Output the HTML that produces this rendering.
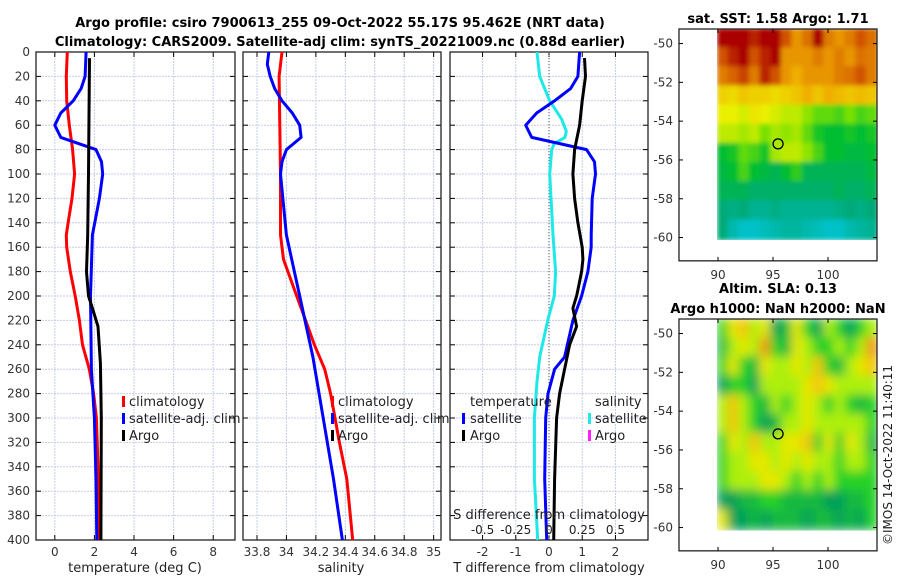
<!DOCTYPE html>
<html><head><meta charset="utf-8"><style>
html,body{margin:0;padding:0;background:#fff;}
svg{display:block;font-family:"DejaVu Sans","Liberation Sans",sans-serif;}
</style></head><body>
<svg id="c" width="900" height="580" viewBox="0 0 900 580">
<defs>
<filter id="bl1" x="0" y="0" width="1" height="1"><feGaussianBlur stdDeviation="2.5"/></filter>
<filter id="bl2" x="0" y="0" width="1" height="1"><feGaussianBlur stdDeviation="5"/></filter>
<clipPath id="cm1"><rect x="717" y="29" width="160" height="211"/></clipPath>
<clipPath id="cm2"><rect x="717" y="319" width="160" height="212"/></clipPath>
</defs>
<text x="340" y="27" text-anchor="middle" font-size="13" font-weight="bold">Argo profile: csiro 7900613_255 09-Oct-2022 55.17S 95.462E (NRT data)</text>
<text x="340" y="46" text-anchor="middle" font-size="13" font-weight="bold">Climatology: CARS2009. Satellite-adj clim: synTS_20221009.nc (0.88d earlier)</text>
<text x="778" y="23" text-anchor="middle" font-size="13" font-weight="bold">sat. SST: 1.58 Argo: 1.71</text>
<text x="778" y="293" text-anchor="middle" font-size="13" font-weight="bold">Altim. SLA: 0.13</text>
<text x="778" y="313" text-anchor="middle" font-size="13" font-weight="bold">Argo h1000: NaN h2000: NaN</text>
<text transform="translate(892,545) rotate(-90)" font-size="12" fill="#222">©IMOS 14-Oct-2022 11:40:11</text>
<g id="root"></g>
</svg>
<script>
// ---- Data ----
const depthTicks = [0,20,40,60,80,100,120,140,160,180,200,220,240,260,280,300,320,340,360,380,400];
const tempTicks = [0,2,4,6,8];
const salTicks = [33.8,34,34.2,34.4,34.6,34.8,35];
const salTickLabels = ["33.8","34","34.2","34.4","34.6","34.8","35"];
const tdiffTicks = [-2,-1,0,1,2];
const sdiffTicks = [-0.5,-0.25,0,0.25,0.5];
const sdiffTickLabels = ["-0.5","-0.25","0","0.25","0.5"];

const climTDepth = [0,20,40,60,80,100,120,140,150,160,180,200,220,240,260,280,300,350,400];
const climTVal   = [0.63,0.58,0.6,0.73,0.9,1.0,0.87,0.67,0.58,0.6,0.78,1.03,1.24,1.4,1.74,1.96,2.1,2.2,2.25];
const satTDepth  = [0,20,30,40,50,60,70,80,90,100,120,150,200,260,300,350,400];
const satTVal    = [1.58,1.53,1.33,0.93,0.3,0.0,0.3,2.08,2.36,2.42,2.25,1.9,1.8,1.85,2.0,2.08,2.12];
const argoTDepth = [5,100,150,180,200,210,225,255,300,400];
const argoTVal   = [1.75,1.7,1.66,1.6,1.7,1.9,2.18,2.3,2.35,2.33];

const climSDepth = [0,20,100,150,170,190,200,220,240,260,280,300,320,350,400];
const climSVal   = [33.97,33.95,33.96,33.96,33.98,34.04,34.07,34.13,34.19,34.26,34.3,34.33,34.36,34.41,34.45];
const satSDepth  = [0,10,20,30,40,50,60,70,80,90,100,150,200,250,300,350,400];
const satSVal    = [33.88,33.87,33.89,33.92,33.97,34.04,34.09,34.1,34.0,33.97,33.96,34.0,34.09,34.18,34.25,34.32,34.38];

const dTSatDepth = [0,20,30,40,50,60,70,80,90,100,120,150,160,180,200,220,250,260,280,300,350,400];
const dTSatVal   = [0.92,0.87,0.65,0.17,-0.37,-0.7,-0.52,1.13,1.37,1.4,1.3,1.27,1.27,1.17,0.98,0.72,0.47,0.17,-0.03,-0.1,-0.13,-0.07];
const dTArgoDepth = [5,20,40,60,80,100,120,140,160,170,180,195,200,210,225,240,260,280,300,350,400];
const dTArgoVal   = [1.07,1.1,1.0,0.92,0.77,0.72,0.77,0.87,1.0,1.02,0.98,0.87,0.83,0.72,0.83,0.62,0.47,0.32,0.23,0.17,0.14];
const dSSatDepth = [0,20,40,55,65,70,75,80,100,150,180,200,220,250,270,300,350,400];
const dSSatVal   = [-0.09,-0.07,0.005,0.095,0.13,0.12,0.04,0.02,0.005,0.03,0.05,0.04,-0.01,-0.07,-0.09,-0.11,-0.11,-0.085];

const mapLatTicks = [-50,-52,-54,-56,-58,-60];
const mapLonTicks = [90,95,100];
const argoLon = 95.462, argoLat = -55.17;
const sstGrid = [
 [4,4,4,3.8,4,4,3.5,3,3.3,4,3.2,3,3.2,3.5,3.3],
 [3.5,3.8,4,3.5,3.8,4,3,3,3,3.2,3,3.2,3,3.3,3.2],
 [3.2,3.4,3.6,3.2,3.8,3.5,3,2.8,3,3,3,3.2,3.3,3.5,3.2],
 [2.5,2.4,2.6,2.5,2.5,2.4,2.5,2.6,2.8,2.6,2.8,2.7,2.6,2.7,2.6],
 [2.2,2.2,2.1,2.3,2.2,2.1,2.0,2.0,1.8,1.6,1.6,1.5,1.7,1.5,1.6],
 [2.0,2.0,1.9,2.0,1.7,1.9,1.8,1.9,1.6,1.3,1.2,1.2,1.3,1.2,1.3],
 [1.2,1.3,1.6,1.5,1.3,1.9,2.0,2.0,1.8,1.5,1.2,1.2,1.1,1.1,1.2],
 [1.1,1.2,1.5,1.2,1.1,1.0,1.2,1.4,1.0,1.0,1.0,1.0,1.0,1.0,1.1],
 [1.0,1.0,1.0,0.9,0.9,0.9,0.9,0.9,0.9,0.9,0.9,1.0,0.9,0.9,1.0],
 [0.8,0.7,0.8,0.6,0.6,0.7,0.6,0.6,0.6,0.6,0.6,0.7,0.8,0.7,0.8],
 [0.8,0.4,0.2,0.2,0.3,0.4,0.5,0.5,0.4,0.3,0.2,0.2,0.4,0.5,0.6]
];
const slaGrid = [
 [1,2,2.5,1.5,2,0,0.5,2,1,0,1.5,1,0,1,1.5],
 [0.5,1.5,2,1.5,3,1,0.5,2,1.5,1,1,1.5,1,1.5,3],
 [1,2,1,0.5,2,1.5,1.5,2,1.5,2.5,1,0.5,1.5,2,2.5],
 [0,1,1,0,1.5,1.5,1.5,1.5,2,2.5,2,1.5,1.5,1.5,1.5],
 [1.5,2.5,1.5,1,0.5,1.5,1,1.5,2,1.5,1,1.5,1,0.5,1],
 [1.5,2.5,1.5,1,0,0.5,1.5,1.5,2,1.5,1.5,1.5,1.5,1.5,1],
 [1,2,1.5,2.5,1.5,1.5,2,2,2.5,1,2,1,2,1.5,0.5],
 [1,1.5,1.5,2,2,1.5,2,1.5,2,1.5,1.5,1,1.5,1.5,1],
 [1,1.5,1.5,1.5,2,2,1.5,1,1.5,1,1.5,1,1,1,1],
 [0,0,0.5,0.5,1,1,0.5,0.5,0.5,0.5,0,0,0.5,0.5,1],
 [2,0,0,0.5,0,0.5,0.5,0.5,0,0.5,0.5,0,0.5,0,1]
];

// ---- Drawing ----
const NS = "http://www.w3.org/2000/svg";
const root = document.getElementById('root');
function mk(tag, attrs, parent){
  const e = document.createElementNS(NS, tag);
  for (const k in attrs) e.setAttribute(k, attrs[k]);
  (parent||root).appendChild(e);
  return e;
}
const Y0 = 52, Y1 = 540;
function yD(d){ return Y0 + (d/400)*(Y1-Y0); }

function panel(name, x0, x1, vmin, vmax){
  const g = mk('g', {});
  
  
  const xs = v => x0 + (v - vmin)/(vmax - vmin)*(x1 - x0);
  return {g, xs, x0, x1};
}
function frame(p, ticks, labels, name){
  // horizontal grid
  depthTicks.forEach(d => {
    const l = mk('line', {x1:p.x0, x2:p.x1, y1:yD(d), y2:yD(d), stroke:'#c5cde6', 'stroke-width':1, 'stroke-dasharray':'2,1'}, p.g);
    
    
    mk('line', {x1:p.x0, x2:p.x0+5, y1:yD(d), y2:yD(d), stroke:'#000'}, p.g);
    mk('line', {x1:p.x1-5, x2:p.x1, y1:yD(d), y2:yD(d), stroke:'#000'}, p.g);
  });
  ticks.forEach((t,i) => {
    const x = p.xs(t);
    const l = mk('line', {x1:x, x2:x, y1:Y0, y2:Y1, stroke:'#c5cde6', 'stroke-width':1, 'stroke-dasharray':'2,1'}, p.g);
    
    
    mk('line', {x1:x, x2:x, y1:Y1-5, y2:Y1, stroke:'#000'}, p.g);
    mk('line', {x1:x, x2:x, y1:Y0, y2:Y0+5, stroke:'#000'}, p.g);
    const tx = mk('text', {x:x, y:556, 'text-anchor':'middle', 'font-size':12, fill:'#333'}, p.g);
    tx.textContent = labels ? labels[i] : String(t);
    
    
  });
  mk('rect', {x:p.x0, y:Y0, width:p.x1-p.x0, height:Y1-Y0, fill:'none', stroke:'#222', 'stroke-width':1.3}, p.g);
}
function series(p, depths, vals, color, name, w, scale){
  const pts = depths.map((d,i) => p.xs(vals[i]*(scale||1)).toFixed(1) + ',' + yD(d).toFixed(1)).join(' ');
  const pl = mk('polyline', {points:pts, fill:'none', stroke:color, 'stroke-width':w||3, 'stroke-linejoin':'round'}, p.g);
  
  
}
function label(p, x, y, txt, name, size, anchor){
  const t = mk('text', {x:x, y:y, 'font-size':size||13, fill:'#222', 'text-anchor':anchor||'start'}, p.g);
  t.textContent = txt;
  
  
  return t;
}
function legBar(p, x, y, color, name){
  const r = mk('rect', {x:x, y:y-11, width:3, height:11, fill:color}, p.g);
  
  
}

// Panel 1: temperature
const p1 = panel('temperature-panel', 36, 235, -0.95, 9.1);
frame(p1, tempTicks, null, 'temperature');
depthTicks.forEach(d => {
  const t = mk('text', {x:30, y:yD(d)+4, 'text-anchor':'end', 'font-size':12, fill:'#333'}, p1.g);
  t.textContent = String(d);
  
  
});
series(p1, climTDepth, climTVal, '#f00', 'temp-climatology-line');
series(p1, satTDepth, satTVal, '#00f', 'temp-satellite-line');
series(p1, argoTDepth, argoTVal, '#000', 'temp-argo-line');
label(p1, 135, 572, 'temperature (deg C)', 'temperature-axis-title', 13, 'middle');
legBar(p1, 122, 407, '#f00', 'legend-climatology-marker'); label(p1, 129, 406, 'climatology', 'legend-climatology');
legBar(p1, 122, 424, '#00f', 'legend-satellite-marker'); label(p1, 129, 423, 'satellite-adj. clim', 'legend-satellite');
legBar(p1, 122, 441, '#000', 'legend-argo-marker'); label(p1, 129, 440, 'Argo', 'legend-argo');

// Panel 2: salinity
const p2 = panel('salinity-panel', 243, 441, 33.705, 35.05);
frame(p2, salTicks, salTickLabels, 'salinity');
series(p2, climSDepth, climSVal, '#f00', 'sal-climatology-line');
series(p2, satSDepth, satSVal, '#00f', 'sal-satellite-line');
label(p2, 341, 572, 'salinity', 'salinity-axis-title', 13, 'middle');
legBar(p2, 331, 407, '#f00', 'legend2-climatology-marker'); label(p2, 338, 406, 'climatology', 'legend2-climatology');
legBar(p2, 331, 424, '#00f', 'legend2-satellite-marker'); label(p2, 338, 423, 'satellite-adj. clim', 'legend2-satellite');
legBar(p2, 331, 441, '#000', 'legend2-argo-marker'); label(p2, 338, 440, 'Argo', 'legend2-argo');

// Panel 3: differences
const p3 = panel('difference-panel', 450, 648, -2.98, 2.98);
frame(p3, tdiffTicks, null, 'tdiff');
const zl = mk('line', {x1:p3.xs(0), x2:p3.xs(0), y1:Y0, y2:Y1, stroke:'#555', 'stroke-width':1, 'stroke-dasharray':'1,2'}, p3.g);


series(p3, dSSatDepth, dSSatVal, '#1ee8e8', 'sal-diff-satellite-line', 3, 4);
series(p3, dTSatDepth, dTSatVal, '#00f', 'temp-diff-satellite-line');
series(p3, dTArgoDepth, dTArgoVal, '#000', 'temp-diff-argo-line');
sdiffTicks.forEach((t,i) => {
  label(p3, p3.xs(t*4), 534, sdiffTickLabels[i], 'sdiff-tick-label', 12, 'middle');
});
label(p3, 549, 519, 'S difference from climatology', 'sdiff-axis-title', 13, 'middle');
label(p3, 549, 572, 'T difference from climatology', 'tdiff-axis-title', 13, 'middle');
label(p3, 470, 406, 'temperature', 'legend3-temperature-header');
legBar(p3, 462, 424, '#00f', 'legend3-t-satellite-marker'); label(p3, 470, 423, 'satellite', 'legend3-t-satellite');
legBar(p3, 462, 441, '#000', 'legend3-t-argo-marker'); label(p3, 470, 440, 'Argo', 'legend3-t-argo');
label(p3, 595, 406, 'salinity', 'legend3-salinity-header');
legBar(p3, 588, 424, '#1ee8e8', 'legend3-s-satellite-marker'); label(p3, 595, 423, 'satellite', 'legend3-s-satellite');
legBar(p3, 588, 441, '#ff20ff', 'legend3-s-argo-marker'); label(p3, 595, 440, 'Argo', 'legend3-s-argo');

// Maps
function lerpStops(stops, v){
  if (v <= stops[0][0]) return stops[0][1];
  for (let i=1;i<stops.length;i++){
    if (v <= stops[i][0]){
      const a = stops[i-1], b = stops[i], f = (v-a[0])/(b[0]-a[0]);
      return a[1].map((c,k)=>Math.round(c+(b[1][k]-c)*f));
    }
  }
  return stops[stops.length-1][1];
}
const sstStops = [[0,[0,200,225]],[0.8,[0,170,120]],[1.2,[0,190,50]],[1.7,[120,225,0]],[2.2,[235,240,0]],[2.8,[240,175,0]],[3.4,[215,100,0]],[4,[170,0,0]]];
const slaStops = [[0,[0,160,90]],[1,[40,210,40]],[1.6,[200,245,0]],[2.2,[245,225,0]],[3,[240,150,20]]];

function mapPanel(name, top, grid, stops, filt, clip){
  const g = mk('g', {});
  
  
  const lat0 = -49.25, latPx = 19.4, lonPx = 11;
  const xL = lon => 718 + (lon-90)*lonPx;
  const yL = lat => top + (lat0 - lat)*latPx;
  const cells = mk('g', {filter:'url(#'+filt+')', 'clip-path':'url(#'+clip+')'}, g);
  const rows = grid.length, cols = grid[0].length;
  const lonStep = 14.5/cols, latStep = 10.85/rows;
  grid.forEach((row, r) => row.forEach((v, c) => {
    const col = lerpStops(stops, v);
    const x = xL(90 + c*lonStep), y = yL(lat0 - r*latStep);
    const rc = mk('rect', {x:x-1, y:y-1, width:lonStep*lonPx+2, height:latStep*latPx+2, fill:'rgb('+col.join(',')+')'}, cells);
    
    
  }));
  const bottom = yL(-61.2);
  mk('rect', {x:679, y:top, width:198, height:bottom-top, fill:'none', stroke:'#222', 'stroke-width':1.3}, g);
  mapLatTicks.forEach(l => {
    const y = yL(l);
    mk('line', {x1:873, x2:877, y1:y, y2:y, stroke:'#000'}, g);
    mk('line', {x1:679, x2:683, y1:y, y2:y, stroke:'#000'}, g);
    const t = mk('text', {x:673, y:y+4, 'text-anchor':'end', 'font-size':12, fill:'#333'}, g);
    t.textContent = String(l);
    
    
  });
  mapLonTicks.forEach(l => {
    const x = xL(l);
    mk('line', {x1:x, x2:x, y1:top, y2:top+4, stroke:'#000'}, g);
    mk('line', {x1:x, x2:x, y1:bottom-4, y2:bottom, stroke:'#000'}, g);
    const t = mk('text', {x:x, y:bottom+18, 'text-anchor':'middle', 'font-size':12, fill:'#333'}, g);
    t.textContent = String(l);
    
    
  });
  const m = mk('circle', {cx:xL(argoLon), cy:yL(argoLat), r:5, fill:'none', stroke:'#000', 'stroke-width':1.3}, g);
  
  
}
mapPanel('sst-map', 29, sstGrid, sstStops, 'bl1', 'cm1');
mapPanel('sla-map', 319, slaGrid, slaStops, 'bl2', 'cm2');
</script>
</body></html>
